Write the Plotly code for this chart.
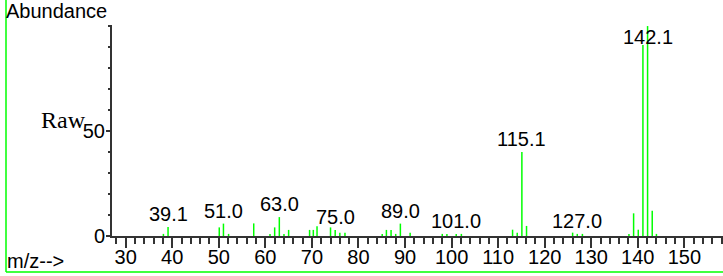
import plotly.graph_objects as go

# ---- data ----
mz = [38.1, 39.1, 50.1, 51.0, 52.1, 57.5, 61.0, 62.0, 63.0, 64.0, 65.0,
      69.5, 70.3, 71.1, 74.0, 75.0, 76.0, 77.1, 85.1, 86.0, 87.0, 88.0,
      89.0, 91.1, 98.0, 99.0, 101.0, 102.1, 113.1, 114.1, 115.1, 116.1,
      126.0, 127.0, 128.1, 138.1, 139.1, 140.1, 141.1, 142.1, 143.1, 144.0]
abundance = [1, 4.3, 4.1, 5.9, 1, 6, 1, 4.1, 9, 1, 2.9,
             2.9, 2.9, 4.6, 4.1, 2.9, 1.6, 1.6, 1, 2.9, 2.9, 1,
             5.9, 1.6, 1, 1, 1, 1, 3, 1.6, 40, 4.8,
             1.6, 1, 1, 1, 10.8, 3, 91, 100, 12, 1]
label_mz = [39.1, 51.0, 63.0, 75.0, 89.0, 101.0, 115.1, 127.0, 142.1]
x_ticks = [30, 40, 50, 60, 70, 80, 90, 100, 110, 120, 130, 140, 150]
y_ticks = [0, 50]

FONT = "Liberation Sans, Arial, sans-serif"
TYPEWRITER = "Liberation Serif"
GREEN = "#00ff00"
AXC = "#333333"

# stick spectrum built from the data
xs, ys = [], []
for m, a in zip(mz, abundance):
    xs += [m, m, None]
    ys += [0, a, None]

fig = go.Figure()
fig.add_trace(go.Scatter(x=xs, y=ys, mode="lines",
                         line=dict(color=GREEN, width=1.5),
                         hoverinfo="skip", showlegend=False))

W, H = 723, 276
L, R, T, B = 112, 0, 25, 40
pw, ph = W - L - R, H - T - B

def px(x):
    return (x - L) / pw

def py(y):
    return (H - B - y) / ph

annotations = []
for m in label_mz:
    a = abundance[mz.index(m)]
    if a > 90:
        annotations.append(dict(x=m, y=a, xref="x", yref="y", text=f"{m:.1f}",
                                showarrow=False, yanchor="top", yshift=2,
                                font=dict(family=FONT, size=20, color="black")))
    else:
        annotations.append(dict(x=m, y=a, xref="x", yref="y", text=f"{m:.1f}",
                                showarrow=False, yanchor="bottom", yshift=0,
                                font=dict(family=FONT, size=20, color="black")))

annotations += [
    dict(x=px(4), y=py(11), xref="paper", yref="paper", text="Abundance",
         showarrow=False, xanchor="left", yanchor="middle",
         font=dict(family=FONT, size=20, color="black")),
    dict(x=px(63.5), y=py(119.5), xref="paper", yref="paper", text="Raw",
         showarrow=False, xanchor="center", yanchor="middle",
         font=dict(family=TYPEWRITER, size=24, color="black")),
    dict(x=px(5), y=py(261), xref="paper", yref="paper", text="m/z-->",
         showarrow=False, xanchor="left", yanchor="middle",
         font=dict(family=FONT, size=20, color="black")),
]

shapes = [
    dict(type="line", xref="paper", yref="paper", x0=px(6), x1=px(6),
         y0=py(0), y1=py(272), line=dict(color=GREEN, width=1.5)),
    dict(type="line", xref="paper", yref="paper", x0=px(6), x1=px(W),
         y0=py(272), y1=py(272), line=dict(color=GREEN, width=1.5)),
]

fig.update_layout(
    width=W, height=H,
    margin=dict(l=L, r=R, t=T, b=B, pad=0),
    paper_bgcolor="white", plot_bgcolor="white",
    font=dict(family=FONT, size=20, color="black"),
    annotations=annotations, shapes=shapes,
    xaxis=dict(range=[27.06, 158.3], tickvals=x_ticks, ticks="outside",
               ticklen=10, tickwidth=1.5, tickcolor=AXC,
               showline=True, linecolor=AXC, linewidth=2,
               showgrid=False, zeroline=False, automargin=False,
               ticklabelstandoff=-8,
               minor=dict(dtick=2, tick0=28, ticks="outside", ticklen=6,
                          tickwidth=1.5, tickcolor=AXC, showgrid=False),
               tickfont=dict(family=FONT, size=20, color="black")),
    yaxis=dict(range=[0, 100.5], tickvals=y_ticks, ticks="outside",
               ticklen=4, tickwidth=1.5, tickcolor=AXC,
               showline=True, linecolor=AXC, linewidth=2,
               showgrid=False, zeroline=False, automargin=False,
               ticklabelstandoff=-3,
               minor=dict(dtick=10, tick0=0, ticks="outside", ticklen=2,
                          tickwidth=1.5, tickcolor=AXC, showgrid=False),
               tickfont=dict(family=FONT, size=20, color="black")),
)

fig.write_html("out.html", config={"displayModeBar": False},
               post_script="document.body.style.margin='0';document.body.style.padding='0';")
